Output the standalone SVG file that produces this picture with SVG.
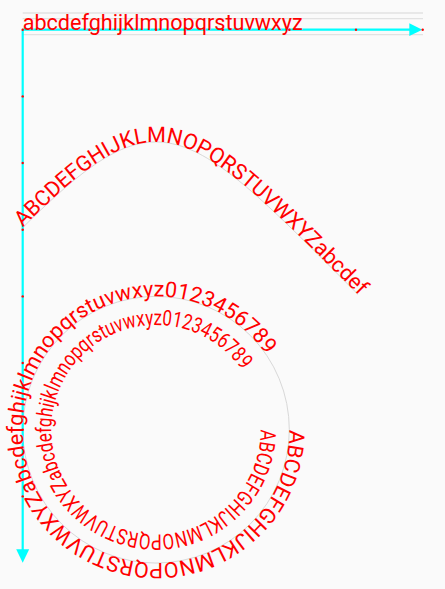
<svg xmlns="http://www.w3.org/2000/svg" width="445" height="589" viewBox="0 0 445 589">
<style>
.t{font-family:Roboto,"Liberation Sans",sans-serif;font-size:21.6px;fill:#ff0000}
.g{stroke:#e2e2e2;stroke-width:1.3;fill:none}
.guide{stroke:#d8d8d8;stroke-width:1;fill:none}
.ax{stroke:#00ffff;stroke-width:2.2;fill:none}
.ah{fill:#00ffff}
.dot{fill:#ff0000}
</style>
<defs>
<path id="arc" d="M22.7 227.7 C159.4 91 184.7 121 358 294.4"/>
<path id="circ" d="M289.3 429.7 A133.3 133.3 0 1 1 22.7 429.7 A133.3 133.3 0 1 1 289.3 429.7"/>
<path id="circIn" d="M260.7 429.7 A104.7 104.7 0 1 1 51.3 429.7 A104.7 104.7 0 1 1 260.7 429.7"/>
</defs>
<rect width="445" height="589" fill="#fafafa"/>
<g id="metrics">
<line class="g" x1="22.7" y1="13" x2="423" y2="13"/>
<line class="g" x1="22.7" y1="18.7" x2="423" y2="18.7"/>
<line class="g" x1="22.7" y1="29.7" x2="423" y2="29.7"/>
<line class="g" x1="22.7" y1="34.7" x2="423" y2="34.7"/>
</g>
<g id="guides">
<use href="#arc" class="guide"/>
<use href="#circ" class="guide"/>
</g>
<g id="axes">
<line class="ax" x1="22.7" y1="29.7" x2="410" y2="29.7"/>
<polygon class="ah" points="409.3,23.3 422.3,29.7 409.3,36.1"/>
<line class="ax" x1="22.7" y1="29.7" x2="22.7" y2="550"/>
<polygon class="ah" points="16.2,549.3 22.7,562.7 29.2,549.3"/>
</g>
<g id="ticks">
<circle class="dot" cx="22.7" cy="29.7" r="1.2"/>
<circle class="dot" cx="89.4" cy="29.7" r="1.2"/>
<circle class="dot" cx="156" cy="29.7" r="1.2"/>
<circle class="dot" cx="222.7" cy="29.7" r="1.2"/>
<circle class="dot" cx="289.4" cy="29.7" r="1.2"/>
<circle class="dot" cx="356" cy="29.7" r="1.2"/>
<circle class="dot" cx="422.7" cy="29.7" r="1.2"/>
<circle class="dot" cx="22.7" cy="96.4" r="1.2"/>
<circle class="dot" cx="22.7" cy="163" r="1.2"/>
<circle class="dot" cx="22.7" cy="229.7" r="1.2"/>
<circle class="dot" cx="22.7" cy="296.4" r="1.2"/>
<circle class="dot" cx="22.7" cy="363" r="1.2"/>
<circle class="dot" cx="22.7" cy="429.7" r="1.2"/>
<circle class="dot" cx="22.7" cy="496.4" r="1.2"/>
</g>
<g id="top-text">
<text class="t" x="22.7" y="29.7">abcdefghijklmnopqrstuvwxyz</text>
</g>
<g id="arc-text">
<text class="t"><textPath href="#arc">ABCDEFGHIJKLMNOPQRSTUVWXYZabcdefghijklmnopqrstuvwxyz0123456789</textPath></text>
</g>
<g id="circle-outer-text">
<text class="t"><textPath href="#circ">ABCDEFGHIJKLMNOPQRSTUVWXYZabcdefghijklmnopqrstuvwxyz0123456789</textPath></text>
</g>
<g id="circle-inner-text">
<text class="t"><textPath href="#circIn" textLength="594" lengthAdjust="spacingAndGlyphs">ABCDEFGHIJKLMNOPQRSTUVWXYZabcdefghijklmnopqrstuvwxyz0123456789</textPath></text>
</g>
</svg>
